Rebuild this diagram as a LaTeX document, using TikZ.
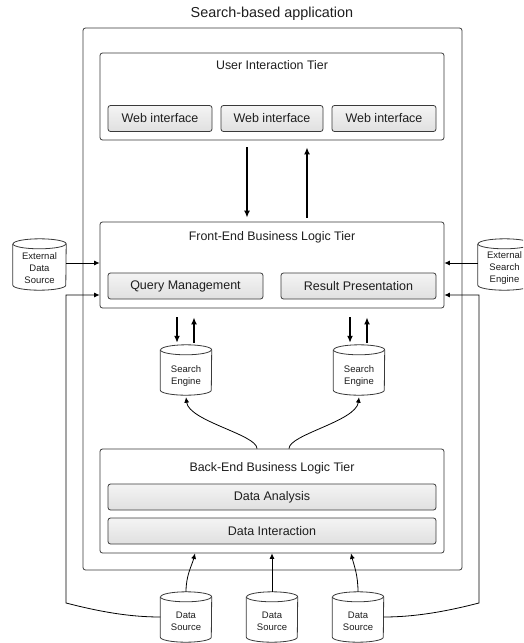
\documentclass[tikz,border=0pt]{standalone}
\usepackage{fontspec}
\setmainfont{Liberation Sans}
\usetikzlibrary{arrows.meta,calc}

\definecolor{edge}{HTML}{3A3A3A}
\definecolor{ink}{HTML}{1E1E1E}
\definecolor{btntop}{HTML}{F4F4F4}
\definecolor{btnbot}{HTML}{E0E0E0}

\tikzset{
  tier/.style={draw=edge, line width=0.8pt, rounded corners=2.5pt, inner sep=0pt},
  btn/.style={draw=edge, line width=0.8pt, rounded corners=2.5pt,
    top color=btntop, bottom color=btnbot, text=ink, inner sep=0pt,
    minimum height=26pt, font=\fontsize{12.5}{15}\selectfont},
  tiertitle/.style={inner sep=0pt, text=ink, font=\fontsize{12.4}{15}\selectfont},
  dbnode/.style={minimum width=51pt, minimum height=50pt, inner sep=0pt},
  dblabel/.style={align=center, inner sep=0pt, text=ink, font=\fontsize{9.5}{11.8}\selectfont},
  bigarrow/.style={line width=1.6pt, draw=black, -{Latex[length=7pt,width=6pt]}},
  link/.style={line width=0.8pt, draw=black, -{Latex[length=5.5pt,width=5pt]}},
}

% database cylinder drawn around a named node; #2 = half of its width
\newcommand{\dbdraw}[2]{%
  \draw[edge, line width=0.8pt]
    ([yshift=-5pt]#1.north west) -- ([yshift=5pt]#1.south west)
    arc[start angle=180, end angle=360, x radius=#2, y radius=5pt]
    -- ([yshift=-5pt]#1.north east)
    arc[start angle=0, end angle=180, x radius=#2, y radius=5pt];
  \draw[edge, line width=0.8pt] ([yshift=-5pt]#1.north west)
    arc[start angle=180, end angle=360, x radius=#2, y radius=5pt];
}

\begin{document}
\begin{tikzpicture}[x=1pt, y=-1pt]
  \clip (0,0) rectangle (523,643);
  \fill[white] (0,0) rectangle (523,643);

  % application frame
  \node[inner sep=0pt, text=ink, font=\fontsize{14.4}{17}\selectfont] (title) at (272,14) {Search-based application};
  \node[tier, minimum width=379pt, minimum height=542pt] (app) at (272.5,299) {};

  % user interaction tier
  \node[tier, minimum width=344pt, minimum height=87pt] (uit) at (272,96.5) {};
  \node[tiertitle] (uitt) at (272,65) {User Interaction Tier};
  \node[btn, minimum width=104pt] (wi1) at (160,118.5) {Web interface};
  \node[btn, minimum width=102pt] (wi2) at (272,118.5) {Web interface};
  \node[btn, minimum width=104pt] (wi3) at (384,118.5) {Web interface};

  % front-end business logic tier
  \node[tier, minimum width=344pt, minimum height=86pt] (fe) at (272,265) {};
  \node[tiertitle] (fet) at (272,237) {Front-End Business Logic Tier};
  \node[btn, minimum width=155pt] (qm) at (185.5,286) {Query Management};
  \node[btn, minimum width=155pt] (rp) at (358.5,286) {Result Presentation};

  % search engines
  \node[dbnode, label={[dblabel, yshift=-6pt]center:Search\\Engine}] (se1) at (186,370) {};
  \node[dbnode, label={[dblabel, yshift=-6pt]center:Search\\Engine}] (se2) at (359,370) {};
  \dbdraw{se1}{25.5pt}
  \dbdraw{se2}{25.5pt}

  % back-end business logic tier
  \node[tier, minimum width=344pt, minimum height=104pt] (be) at (272,501) {};
  \node[tiertitle] (bet) at (272,468) {Back-End Business Logic Tier};
  \node[btn, minimum width=328pt] (da) at (272,497) {Data Analysis};
  \node[btn, minimum width=328pt] (di) at (272,531) {Data Interaction};

  % data sources
  \node[dbnode, label={[dblabel, yshift=-4.5pt]center:Data\\Source}] (ds1) at (186,617) {};
  \node[dbnode, label={[dblabel, yshift=-4.5pt]center:Data\\Source}] (ds2) at (272,617) {};
  \node[dbnode, label={[dblabel, yshift=-4.5pt]center:Data\\Source}] (ds3) at (358,617) {};
  \dbdraw{ds1}{25.5pt}
  \dbdraw{ds2}{25.5pt}
  \dbdraw{ds3}{25.5pt}

  % external sources
  \node[dbnode, minimum width=53pt, minimum height=51pt,
        label={[dblabel, yshift=-3.5pt]center:External\\Data\\Source}] (eds) at (39.5,264.5) {};
  \node[dbnode, minimum width=53pt, minimum height=51pt,
        label={[dblabel, yshift=-3.5pt]center:External\\Search\\Engine}] (ese) at (504.5,264.5) {};
  \dbdraw{eds}{26.5pt}
  \dbdraw{ese}{26.5pt}

  % user tier <-> front-end tier
  \draw[bigarrow] ($(uit.south)+(-25,7)$) -- ($(fe.north)+(-25,-4)$);
  \draw[bigarrow] ($(fe.north)+(35,-4)$) -- ($(uit.south)+(35,7)$);

  % front-end tier <-> search engines
  \draw[bigarrow] ($(fe.south -| se1.north)+(-9,9)$) -- ($(se1.north)+(-9,-2)$);
  \draw[bigarrow] ($(se1.north)+(8,-2)$) -- ($(fe.south -| se1.north)+(8,9)$);
  \draw[bigarrow] ($(fe.south -| se2.north)+(-9,9)$) -- ($(se2.north)+(-9,-2)$);
  \draw[bigarrow] ($(se2.north)+(8,-2)$) -- ($(fe.south -| se2.north)+(8,9)$);

  % back-end tier feeds the search engines
  \draw[link] ($(be.north)+(-15,0)$) .. controls +(0,-14) and +(3,24) .. ($(se1.south)+(0,2)$);
  \draw[link] ($(be.north)+(17,0)$) .. controls +(0,-14) and +(-3,24) .. ($(se2.south)+(0,2)$);

  % data sources feed the back-end tier
  \draw[link] (ds1.north) .. controls +(0,-17) and +(-3,12) .. ($(be.south)+(-77,0)$);
  \draw[link] (ds2.north) -- (be.south);
  \draw[link] (ds3.north) .. controls +(0,-17) and +(3,12) .. ($(be.south)+(79,0)$);

  % external sources into the front-end tier
  \draw[link] ($(eds.east)+(0,-1.5)$) -- ($(eds.east -| fe.west)+(0,-1.5)$);
  \draw[link] ($(ese.west)+(0,-1.5)$) -- ($(ese.west -| fe.east)+(0,-1.5)$);

  % data sources routed round the application to the front-end tier
  \coordinate (lb) at (66,603);
  \coordinate (lt) at (66,295);
  \coordinate (rb) at (479,603);
  \coordinate (rt) at (479,295);
  \draw[link] (ds1.west) .. controls +(-30,0) and +(35,9) .. (lb) -- (lt) -- (lt -| fe.west);
  \draw[link] (ds3.east) .. controls +(30,0) and +(-35,9) .. (rb) -- (rt) -- (rt -| fe.east);
\end{tikzpicture}
\end{document}
